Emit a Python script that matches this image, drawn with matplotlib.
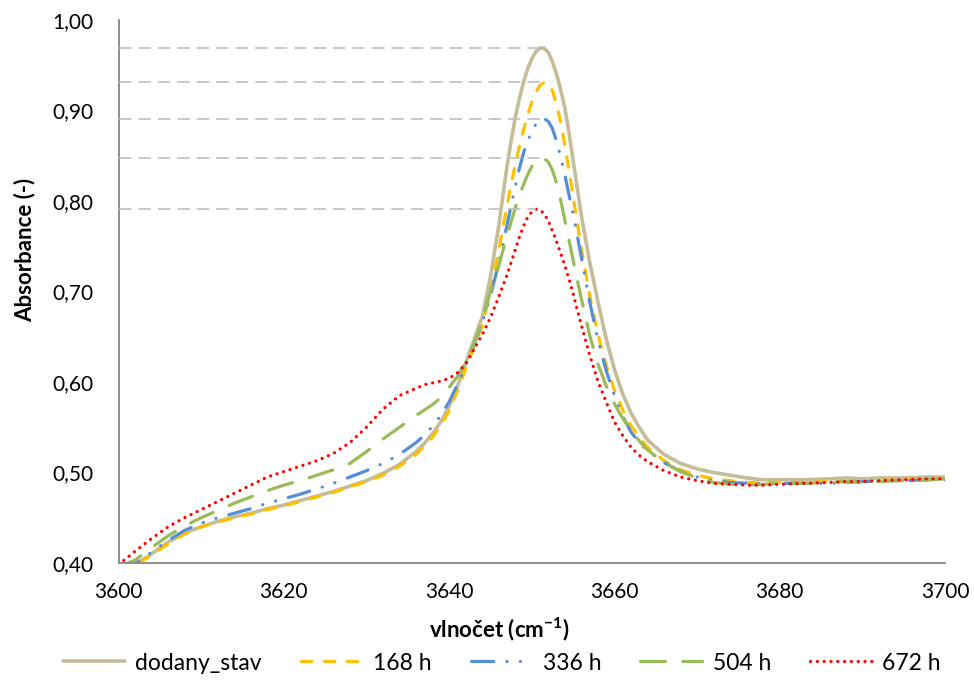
import numpy as np
import matplotlib
matplotlib.use('Agg')
import matplotlib.pyplot as plt
from matplotlib.ticker import FuncFormatter, MultipleLocator

plt.rcParams['font.family'] = ['Lato', 'DejaVu Sans']
plt.rcParams['mathtext.fontset'] = 'custom'
plt.rcParams['mathtext.rm'] = 'Lato'
plt.rcParams['mathtext.bf'] = 'Lato:bold'
plt.rcParams['lines.scale_dashes'] = False

# wavenumber grid (cm-1)
wn = [3600, 3602, 3604, 3606, 3608, 3610, 3612, 3614, 3616, 3618, 3620, 3622, 3624, 3626, 3628, 3630, 3632, 3634, 3636,
      3637, 3638, 3639, 3640, 3641, 3642, 3643, 3644, 3645,
      3646, 3646.5, 3647, 3647.5, 3648, 3648.5, 3649, 3649.5, 3650, 3650.5, 3651, 3651.5, 3652, 3652.5, 3653, 3653.5,
      3654, 3654.5, 3655, 3655.5, 3656,
      3657, 3658, 3659, 3660, 3661, 3662, 3663, 3664,
      3666, 3668, 3670, 3672, 3674, 3676, 3678, 3680,
      3683, 3686, 3688, 3690, 3692, 3695, 3698, 3700]

dodany_stav = [0.392, 0.398, 0.410, 0.423, 0.433, 0.440, 0.446, 0.451, 0.455, 0.460, 0.464, 0.469, 0.474, 0.479, 0.485, 0.491, 0.499, 0.509, 0.523,
               0.532, 0.543, 0.556, 0.573, 0.595, 0.621, 0.646, 0.672, 0.716,
               0.772, 0.805, 0.838, 0.866, 0.892, 0.913, 0.931, 0.946, 0.957, 0.965, 0.969, 0.969, 0.964, 0.954, 0.940, 0.923,
               0.903, 0.876, 0.845, 0.815, 0.784,
               0.733, 0.689, 0.648, 0.614, 0.587, 0.566, 0.550, 0.536,
               0.520, 0.510, 0.504, 0.500, 0.497, 0.494, 0.492, 0.492,
               0.492, 0.493, 0.494, 0.493, 0.494, 0.494, 0.495, 0.495]

h168 = [0.392, 0.397, 0.409, 0.421, 0.432, 0.440, 0.445, 0.450, 0.454, 0.459, 0.463, 0.468, 0.473, 0.478, 0.484, 0.490, 0.497, 0.507, 0.520,
        0.529, 0.539, 0.552, 0.568, 0.590, 0.615, 0.638, 0.662, 0.700,
        0.745, 0.770, 0.795, 0.818, 0.840, 0.860, 0.878, 0.895, 0.909, 0.920, 0.928, 0.931, 0.930, 0.922, 0.907, 0.887,
        0.862, 0.834, 0.805, 0.776, 0.748,
        0.696, 0.653, 0.619, 0.591, 0.569, 0.552, 0.539, 0.528,
        0.513, 0.503, 0.497, 0.493, 0.491, 0.489, 0.489, 0.489,
        0.489, 0.490, 0.490, 0.491, 0.491, 0.492, 0.493, 0.494]

h336 = [0.393, 0.399, 0.412, 0.425, 0.436, 0.444, 0.450, 0.455, 0.460, 0.466, 0.471, 0.476, 0.482, 0.488, 0.495, 0.502, 0.510, 0.520, 0.533,
        0.541, 0.551, 0.563, 0.578, 0.597, 0.618, 0.641, 0.665, 0.695,
        0.731, 0.752, 0.773, 0.795, 0.816, 0.836, 0.853, 0.866, 0.877, 0.885, 0.890, 0.891, 0.888, 0.880, 0.866, 0.849,
        0.829, 0.807, 0.786, 0.762, 0.738,
        0.689, 0.647, 0.613, 0.585, 0.562, 0.545, 0.533, 0.524,
        0.511, 0.501, 0.495, 0.491, 0.489, 0.488, 0.488, 0.488,
        0.488, 0.488, 0.489, 0.490, 0.490, 0.491, 0.492, 0.492]

h504 = [0.396, 0.403, 0.417, 0.430, 0.441, 0.450, 0.458, 0.466, 0.473, 0.480, 0.486, 0.491, 0.497, 0.503, 0.510, 0.523, 0.537, 0.550, 0.563,
        0.569, 0.575, 0.583, 0.594, 0.606, 0.622, 0.641, 0.667, 0.700,
        0.728, 0.745, 0.761, 0.777, 0.792, 0.806, 0.818, 0.829, 0.838, 0.844, 0.847, 0.847, 0.843, 0.834, 0.820, 0.801,
        0.779, 0.757, 0.735, 0.713, 0.692,
        0.652, 0.620, 0.596, 0.576, 0.560, 0.546, 0.535, 0.525,
        0.511, 0.501, 0.494, 0.489, 0.487, 0.486, 0.487, 0.488,
        0.488, 0.489, 0.490, 0.489, 0.490, 0.491, 0.492, 0.493]

h672 = [0.398, 0.413, 0.427, 0.440, 0.450, 0.459, 0.468, 0.477, 0.486, 0.495, 0.501, 0.507, 0.513, 0.521, 0.533, 0.550, 0.570, 0.585, 0.593,
        0.597, 0.599, 0.601, 0.604, 0.610, 0.620, 0.636, 0.652, 0.671,
        0.694, 0.706, 0.718, 0.732, 0.746, 0.760, 0.772, 0.782, 0.788, 0.791, 0.790, 0.786, 0.778, 0.767, 0.755, 0.742,
        0.729, 0.714, 0.698, 0.680, 0.663,
        0.630, 0.601, 0.578, 0.556, 0.541, 0.528, 0.519, 0.512,
        0.502, 0.495, 0.491, 0.488, 0.487, 0.486, 0.486, 0.487,
        0.488, 0.489, 0.490, 0.490, 0.491, 0.492, 0.493, 0.493]

labels = ['dodany_stav', '168 h', '336 h', '504 h', '672 h']
series = [dodany_stav, h168, h336, h504, h672]
colors = ['#C4BD97', '#FFC000', '#558ED5', '#9BBB59', '#FF0000']
# dash patterns in points (round caps)
dashes = [None, (7.5, 9.0), (16.0, 9.5, 0.1, 9.5, 0.1, 9.5), (18.0, 12.5), (0.1, 4.8)]

fig = plt.figure(figsize=(9.74, 6.8), dpi=100)
ax = fig.add_axes([118.5 / 974, 1 - 563 / 680, (945 - 118.5) / 974, (563 - 20) / 680])

for y, lab, c, d in zip(series, labels, colors, dashes):
    if d is None:
        ax.plot(wn, y, color=c, lw=2.6, label=lab, solid_capstyle='round', solid_joinstyle='round')
    else:
        ax.plot(wn, y, color=c, lw=2.3, label=lab, dashes=d, dash_capstyle='round', dash_joinstyle='round')

# grey guide lines from the axis to each peak
for y in series:
    i = int(np.argmax(y))
    ax.plot([3600, wn[i]], [y[i], y[i]], color='#BFBFBF', lw=1.2, dashes=(9.0, 5.0), zorder=5)

ax.set_xlim(3600, 3700)
ax.set_ylim(0.40, 1.00)
ax.xaxis.set_major_locator(MultipleLocator(20))
ax.yaxis.set_major_locator(MultipleLocator(0.1))
ax.yaxis.set_major_formatter(FuncFormatter(lambda v, p: f'{v:.2f}'.replace('.', ',')))

for s in ['top', 'right']:
    ax.spines[s].set_visible(False)
for s in ['left', 'bottom']:
    ax.spines[s].set_color('#868686')
    ax.spines[s].set_linewidth(1.3)
ax.tick_params(axis='both', length=0, labelsize=15, colors='black')
ax.tick_params(axis='y', pad=18)
ax.tick_params(axis='x', pad=14)

fig.text(499 / 974, 1 - 629 / 680, r'vlnočet (cm$^{\mathbf{-1}}$)', ha='center', va='center',
         fontsize=16, fontweight='bold')
fig.text(25 / 974, 1 - 250 / 680, 'Absorbance (-)', ha='center', va='center', rotation=90,
         fontsize=16, fontweight='bold')

fig.legend(loc='center', bbox_to_anchor=(502 / 974, 1 - 663 / 680), ncol=5, frameon=False,
           fontsize=16.5, handlelength=2.7, handletextpad=0.45, columnspacing=1.7)

fig.savefig('out.png', dpi=100)
